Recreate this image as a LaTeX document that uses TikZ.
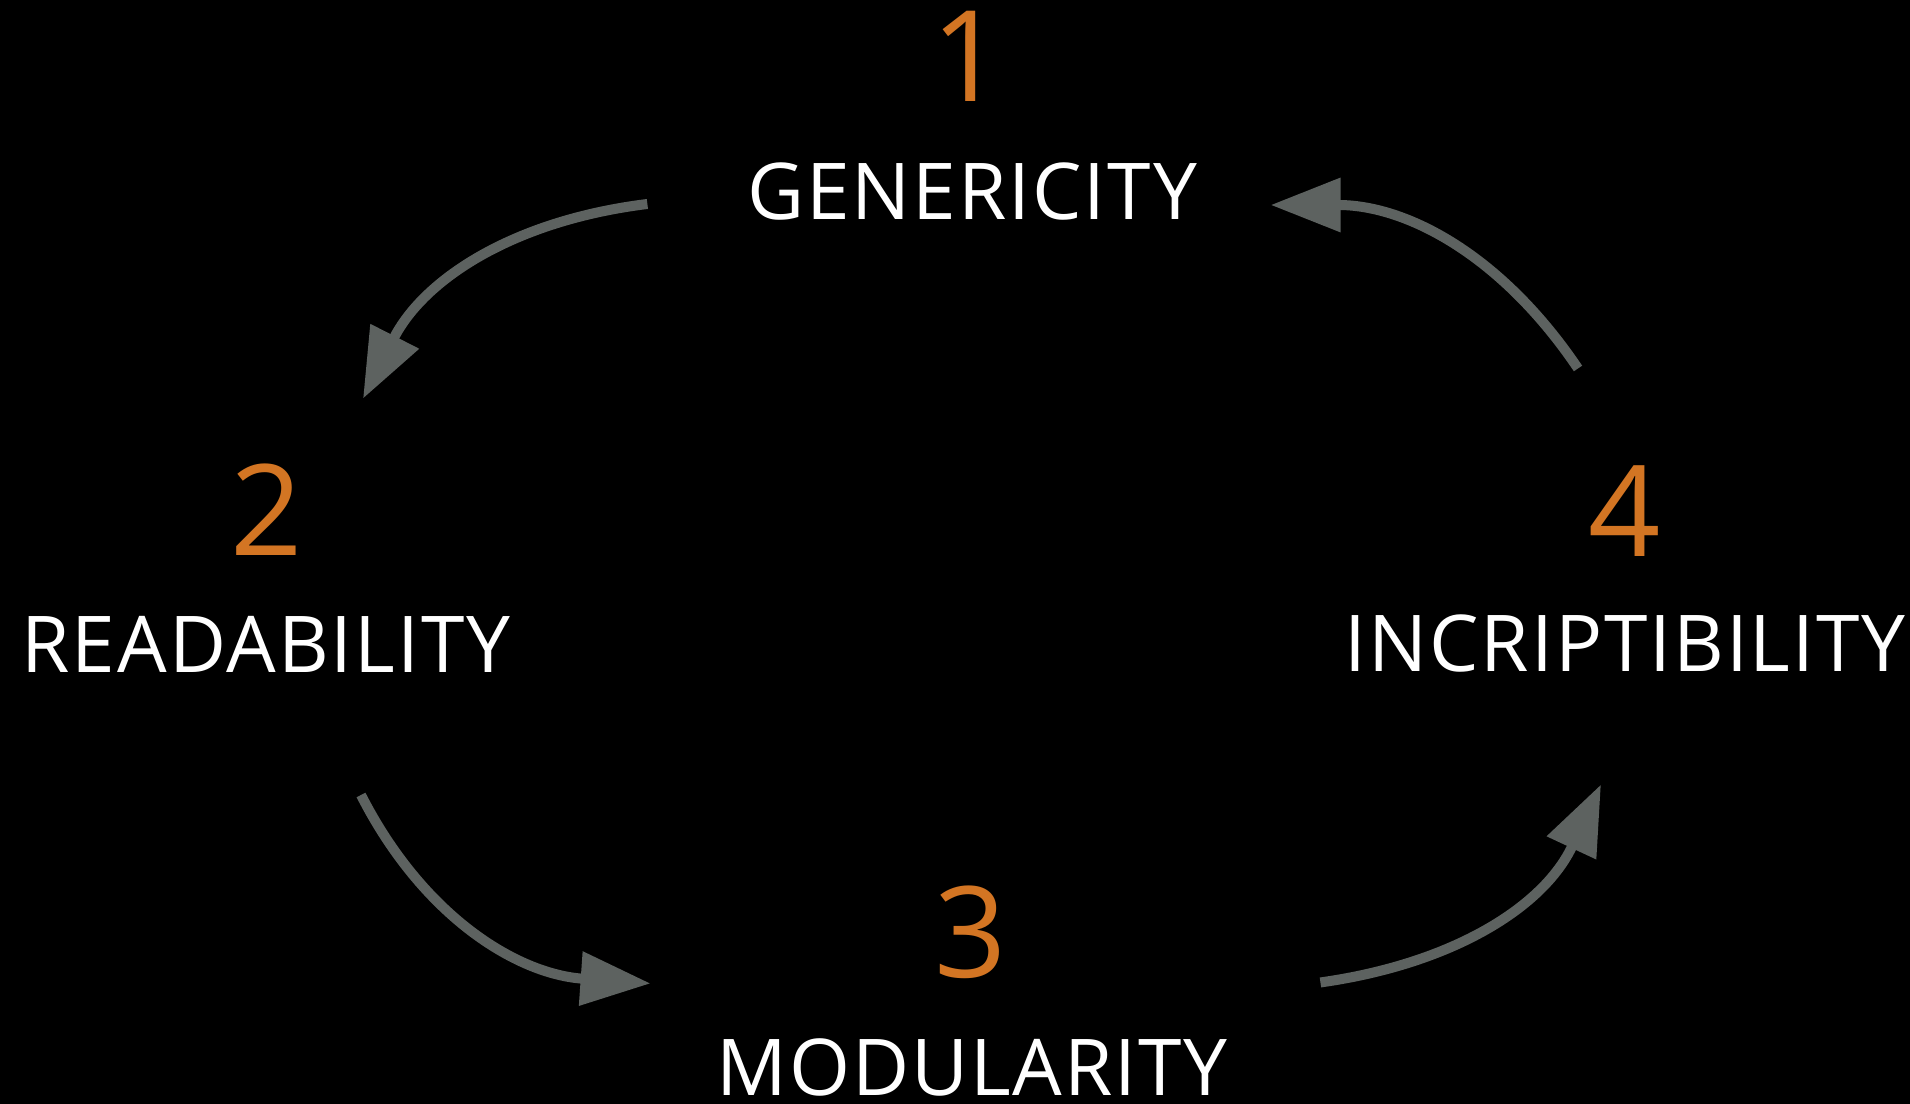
\documentclass[tikz,border=0pt]{standalone}
\usepackage{fontspec}
\setmainfont{Open Sans}
\newfontfamily\lblfont[LetterSpace=2.5]{Open Sans}
\usepackage{tikz}
\usetikzlibrary{arrows.meta}
\definecolor{numorange}{RGB}{211,117,35}
\definecolor{flowgray}{RGB}{93,98,96}

\begin{document}
\begin{tikzpicture}[
  num/.style={text=numorange, inner sep=0pt, anchor=base, font=\fontsize{36}{40}\selectfont}, % 番号
  lbl/.style={text=white, inner sep=0pt, anchor=base, font=\lblfont\fontsize{22.3}{26}\selectfont}, % 名前
  flow/.style={draw=flowgray, line width=0.1cm, -{Triangle[length=0.7cm, width=0.52cm]}} % 矢印
]
  \fill[black] (0,0) rectangle (19.1,-11.04); % 背景
  \useasboundingbox (0,0) rectangle (19.1,-11.04);

  \node[num] (n1) at (9.68,-1.02) {1};
  \node[lbl] (gen) at (9.72,-2.20) {GENERICITY};
  \node[num] (n2) at (2.67,-5.56) {2};
  \node[lbl] (read) at (2.66,-6.73) {READABILITY};
  \node[num] (n3) at (9.71,-9.78) {3};
  \node[lbl] (modu) at (9.72,-10.96) {MODULARITY};
  \node[num] (n4) at (16.25,-5.57) {4};
  \node[lbl] (incr) at (16.25,-6.72) {INCRIPTIBILITY};

  \draw[flow] ([xshift=-0.99cm, yshift=0.16cm]gen.base west) to[out=187, in=63] ([xshift=0.96cm, yshift=0.65cm]n2.north); % 1 -> 2
  \draw[flow] ([xshift=0.95cm, yshift=-1.22cm]read.base) to[out=-63, in=176] ([xshift=-0.65cm, yshift=0.55cm]modu.north west); % 2 -> 3
  \draw[flow] ([xshift=0.92cm, yshift=0.56cm]modu.north east) to[out=8, in=245] ([xshift=-0.24cm, yshift=-1.11cm]incr.south); % 3 -> 4
  \draw[flow] ([xshift=-0.47cm, yshift=0.97cm]n4.north) to[out=124, in=0] ([xshift=0.73cm, yshift=0.15cm]gen.base east); % 4 -> 1
\end{tikzpicture}
\end{document}
